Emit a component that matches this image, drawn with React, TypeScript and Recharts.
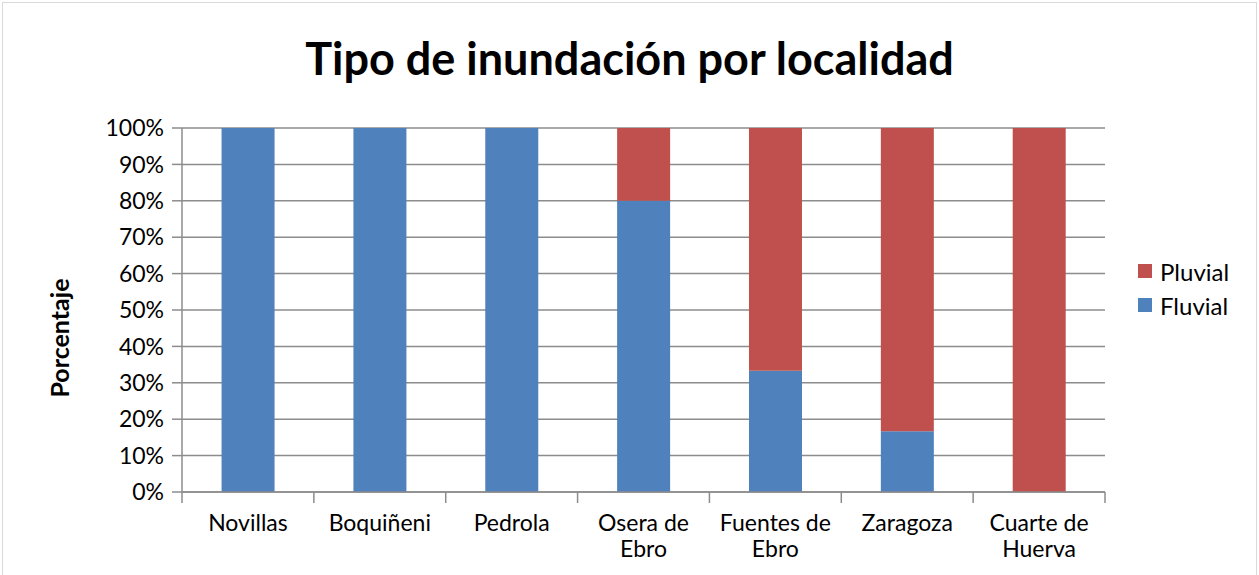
import React from "react";
import { BarChart, Bar, XAxis, YAxis, CartesianGrid, Label } from "recharts";

const categories = ["Novillas", "Boquiñeni", "Pedrola", "Osera de Ebro", "Fuentes de Ebro", "Zaragoza", "Cuarte de Huerva"];
const fluvial = [100, 100, 100, 80, 33.33, 16.67, 0];
const pluvial = [0, 0, 0, 20, 66.67, 83.33, 100];
const yTicks = [0, 10, 20, 30, 40, 50, 60, 70, 80, 90, 100];

const data = categories.map((c, i) => ({ name: c, Fluvial: fluvial[i], Pluvial: pluvial[i] }));

const FONT = "Lato, 'Open Sans', sans-serif";
const BLUE = "#4F81BD";
const RED = "#C0504D";
const GRID = "#8C8C8C";

const XTick = (props: any) => {
  const { x, y, payload, index } = props;
  const label: string = payload.value;
  const sp = label.lastIndexOf(" ");
  const lines = sp > 0 ? [label.slice(0, sp), label.slice(sp + 1)] : [label];
  const half = payload.offset ?? 65.9;
  return (
    <g>
      <line x1={x - half} x2={x - half} y1={y - 8} y2={y + 3} stroke={GRID} strokeWidth={1.5} />
      {index === categories.length - 1 && (
        <line x1={x + half} x2={x + half} y1={y - 8} y2={y + 3} stroke={GRID} strokeWidth={1.5} />
      )}
      {lines.map((l, i) => (
        <text key={i} x={x} y={y + 31 + i * 26} textAnchor="middle" fontFamily={FONT} fontSize={23} fill="#000">
          {l}
        </text>
      ))}
    </g>
  );
};

const legendItems = [
  { n: "Pluvial", c: RED },
  { n: "Fluvial", c: BLUE },
];

export default function App() {
  return (
    <div style={{ position: "absolute", left: 0, top: 0, width: 1259, height: 575, background: "#fff", overflow: "hidden" }}>
      <div style={{ position: "absolute", left: 2, top: 2, width: 1253, height: 580, border: "1px solid #D9D9D9" }} />
      <div style={{ position: "absolute", left: 0, top: 31, width: 1259, textAlign: "center", fontFamily: FONT, fontWeight: 700, fontSize: 45, color: "#000", lineHeight: "54px" }}>
        Tipo de inundación por localidad
      </div>
      <div style={{ position: "absolute", left: 0, top: 0 }}>
        <BarChart width={1259} height={575} data={data} margin={{ top: 128, right: 154, bottom: 0, left: 0 }} barCategoryGap="30%">
          <CartesianGrid vertical={false} stroke={GRID} strokeWidth={1.5} />
          <XAxis dataKey="name" height={83} tick={<XTick />} tickLine={false} axisLine={{ stroke: GRID, strokeWidth: 1.5 }} interval={0} />
          <YAxis
            width={182}
            domain={[0, 100]}
            ticks={yTicks}
            interval={0}
            tickFormatter={(v: number) => `${v}%`}
            tickSize={10}
            tickMargin={8}
            tick={{ fontFamily: FONT, fontSize: 23, fill: "#000" }}
            tickLine={{ stroke: GRID, strokeWidth: 1.5 }}
            axisLine={{ stroke: GRID, strokeWidth: 1.5 }}
          >
            <Label
              value="Porcentaje"
              angle={-90}
              position="insideLeft"
              offset={60}
              dy={28}
              style={{ fontFamily: FONT, fontSize: 25, fontWeight: 700, fill: "#000", textAnchor: "middle" }}
            />
          </YAxis>
          <Bar dataKey="Fluvial" stackId="a" fill={BLUE} isAnimationActive={false} />
          <Bar dataKey="Pluvial" stackId="a" fill={RED} isAnimationActive={false} />
        </BarChart>
      </div>
      <div style={{ position: "absolute", left: 1138, top: 254, fontFamily: FONT, fontSize: 24, color: "#000" }}>
        {legendItems.map((it) => (
          <div key={it.n} style={{ display: "flex", alignItems: "center", height: 34 }}>
            <span style={{ width: 14, height: 14, background: it.c, display: "inline-block", marginRight: 8 }} />
            <span>{it.n}</span>
          </div>
        ))}
      </div>
    </div>
  );
}
